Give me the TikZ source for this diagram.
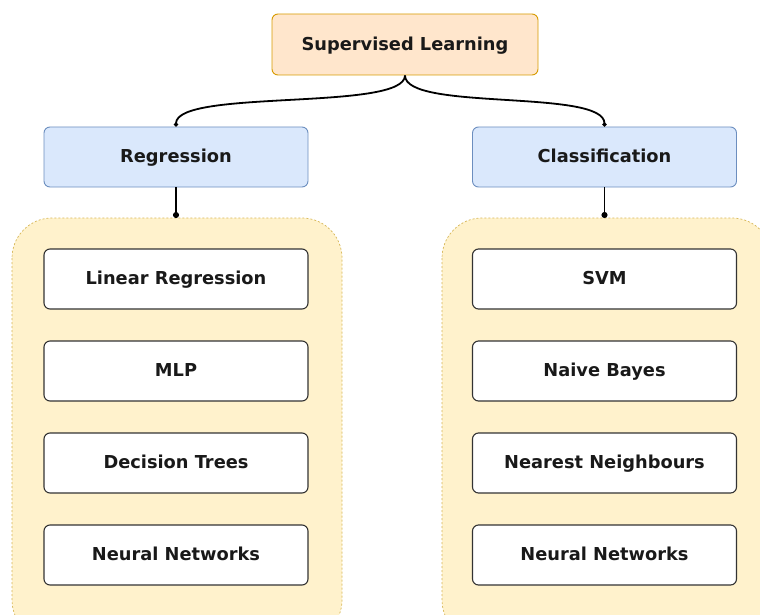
\documentclass[tikz,border=0pt]{standalone}
\usepackage{fontspec}
\setmainfont{DejaVu Sans}
\usetikzlibrary{arrows.meta}
\definecolor{rootfill}{HTML}{FFE6CC}
\definecolor{rootline}{HTML}{D79B00}
\definecolor{catfill}{HTML}{DAE8FC}
\definecolor{catline}{HTML}{6C8EBF}
\definecolor{grpfill}{HTML}{FFF2CC}
\definecolor{grpline}{HTML}{D6B656}
\definecolor{itemline}{HTML}{333333}
\tikzset{
  box/.style={rounded corners=6pt, line width=0.9pt, minimum width=264pt,
    minimum height=60pt, font=\bfseries\fontsize{17.8}{20}\selectfont,
    text=black!90, inner sep=0pt, text height=11.5pt, text depth=0pt},
  rootbox/.style={box, fill=rootfill, draw=rootline, minimum width=266pt, minimum height=61pt},
  catbox/.style={box, fill=catfill, draw=catline},
  itembox/.style={box, fill=white, draw=itemline, line width=1.1pt},
  group/.style={rounded corners=40pt, fill=grpfill, draw=grpline, dashed,
    dash pattern=on 2pt off 2pt, line width=0.7pt},
  link/.style={line width=1.8pt, black},
}
\begin{document}
\begin{tikzpicture}[x=1pt, y=-1pt]
\useasboundingbox (0,0) rectangle (760,615);
\clip (0,0) rectangle (760,615);

% group panels
\draw[group] (12,218) rectangle (342,640);
\draw[group] (442,218) rectangle (772,640);
\coordinate (lgtop) at (176,218);
\coordinate (rgtop) at (604.5,218);

% top of the tree
\node[rootbox] (root) at (405,44.5) {Supervised Learning};
\node[catbox] (reg) at (176,157) {Regression};
\node[catbox] (cls) at (604.5,157) {Classification};

% regression methods
\node[itembox] (lr)  at (176,279) {Linear Regression};
\node[itembox] (mlp) at (176,371) {MLP};
\node[itembox] (dt)  at (176,463) {Decision Trees};
\node[itembox] (nnl) at (176,555) {Neural Networks};

% classification methods
\node[itembox] (svm) at (604.5,279) {SVM};
\node[itembox] (nb)  at (604.5,371) {Naive Bayes};
\node[itembox] (nn)  at (604.5,463) {Nearest Neighbours};
\node[itembox] (nnr) at (604.5,555) {Neural Networks};

% connectors
\draw[link, -{Circle[length=4pt]}] (root.south) .. controls +(0,36) and +(0,-38) .. (reg.north);
\draw[link, -{Circle[length=4pt]}] (root.south) .. controls +(0,36) and +(0,-38) .. (cls.north);
\draw[link, -{Circle[length=6pt]}] (reg.south) -- (lgtop);
\draw[link, -{Circle[length=6pt]}] (cls.south) -- (rgtop);
\end{tikzpicture}
\end{document}
